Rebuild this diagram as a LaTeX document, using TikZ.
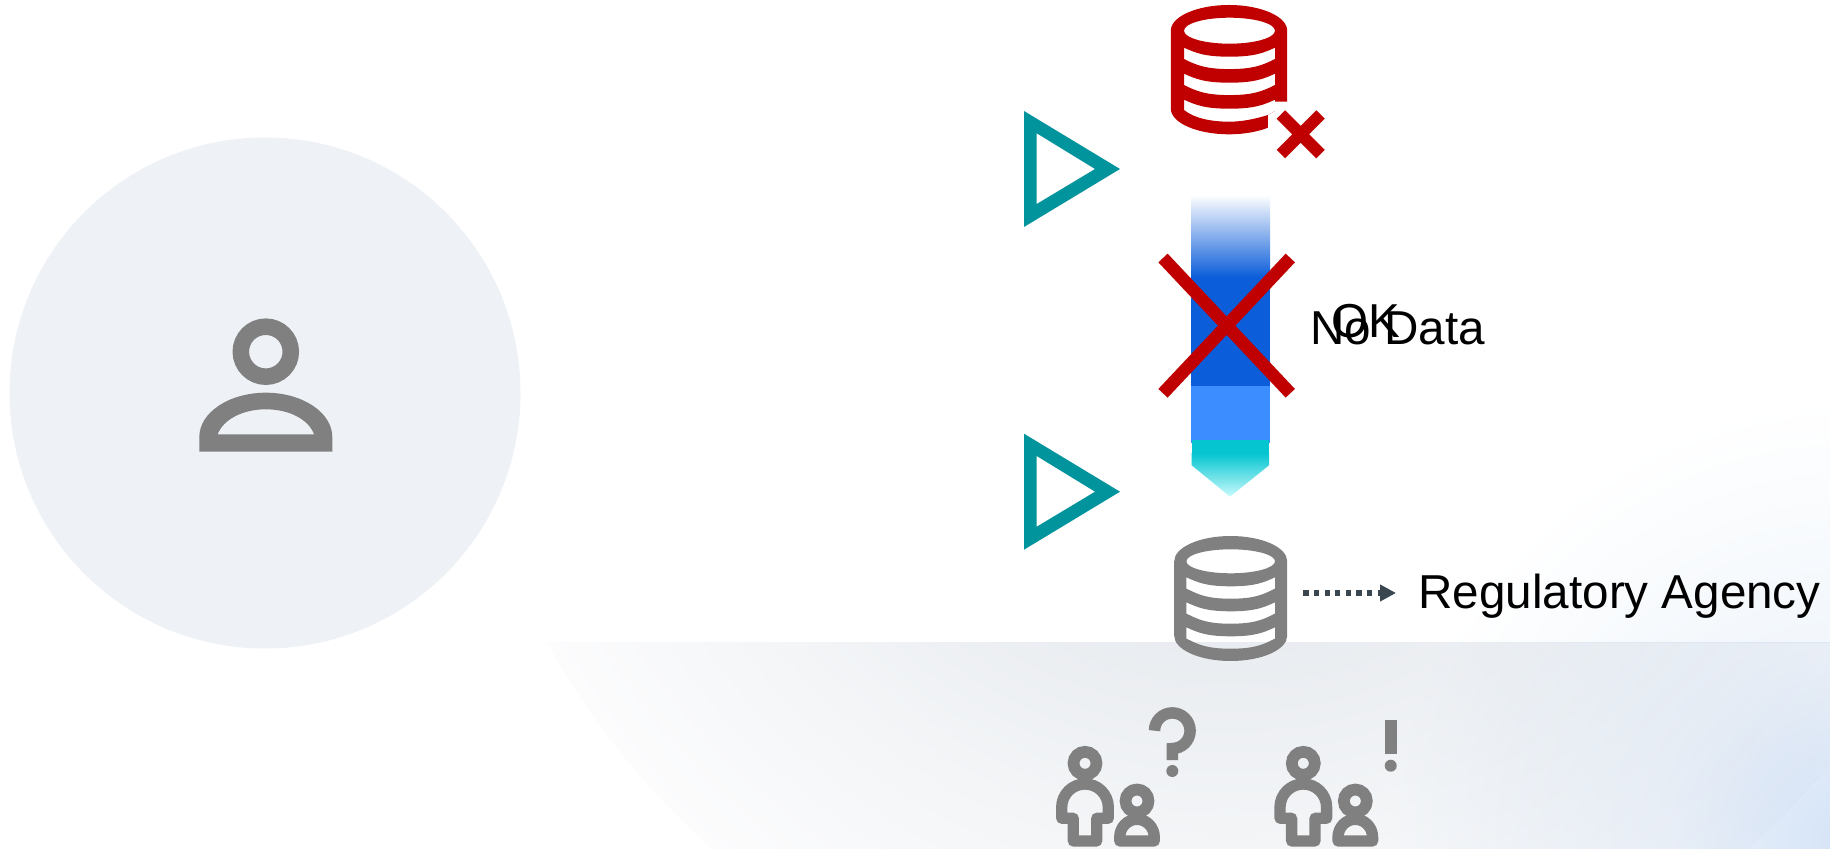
\documentclass[tikz,border=0pt]{standalone}
\usepackage{fontspec}
\setmainfont{Liberation Sans}
\usetikzlibrary{arrows.meta}
\definecolor{iconGrey}{HTML}{808080}
\definecolor{iconRed}{HTML}{C00000}
\definecolor{teal}{HTML}{02949C}
\definecolor{discFill}{HTML}{EEF1F5}
\definecolor{deepBlue}{HTML}{0C5DD9}
\definecolor{midBlue}{HTML}{3C8DFF}
\definecolor{aqua}{HTML}{04C5D0}
\definecolor{aquaPale}{HTML}{C8FAFC}
\definecolor{arrowDark}{HTML}{3A4750}
\definecolor{floorA}{HTML}{E9ECF0}
\definecolor{floorB}{HTML}{F3F5F7}
\definecolor{floorC}{HTML}{FCFCFD}
\definecolor{glowA}{HTML}{D3E3F7}
\definecolor{glowB}{HTML}{EEF3FA}
\definecolor{glowC}{HTML}{E8F0F9}
\definecolor{glowD}{HTML}{F4F8FC}
\pgfdeclareradialshading{floorshade}{\pgfpointorigin}{color(0bp)=(floorA);color(12bp)=(floorA);color(18.5bp)=(floorB);color(25bp)=(floorC);color(50bp)=(floorC)}
\pgfdeclareradialshading{glowlow}{\pgfpointorigin}{color(0bp)=(glowA);color(10bp)=(glowB);color(25bp)=(white);color(50bp)=(white)}
\pgfdeclareradialshading{glowhigh}{\pgfpointorigin}{color(0bp)=(glowC);color(14bp)=(glowD);color(25bp)=(white);color(50bp)=(white)}
\tikzset{
  lab/.style={inner sep=0pt,outer sep=0pt,anchor=base west,text=black,font=\fontsize{23.8}{28}\selectfont},
  band/.style={line width=#1*0.5pt,line cap=butt,line join=miter},
  person/.style={draw=iconGrey,line width=5.65pt,line join=round,line cap=round},
  ring/.style={draw=iconGrey,line width=5.85pt}
}
% gap between two bands of a database: centre x, half width, y of upper edge at the sides
\newcommand{\dbgap}[3]{
  (#1-#2,#3) .. controls (#1-#2+12,#3+5.5) and (#1-24,#3+9) .. (#1,#3+9)
  .. controls (#1+24,#3+9) and (#1+#2-12,#3+5.5) .. (#1+#2,#3)
  -- (#1+#2,#3+11.3) .. controls (#1+#2-12,#3+17.3) and (#1+24,#3+21.4) .. (#1,#3+21.4)
  .. controls (#1-24,#3+21.4) and (#1-#2+12,#3+17.3) .. (#1-#2,#3+11.3) -- cycle
}
\newcommand{\bigperson}[2]{%
  \begin{scope}[shift={(#1,#2)}]
  \draw[ring] (0,0) circle[radius=5.75pt];
  \draw[person] (-23.3,55) -- (-23.3,44) arc[start angle=180,end angle=360,radius=23.3] -- (23.3,55) -- (11.7,55) -- (11.7,77.7) -- (-11.7,77.7) -- (-11.7,55) -- cycle;
  \draw[ring] (52,37.7) circle[radius=5.75pt];
  \draw[person] (34.7,77.7) -- (34.7,74) arc[start angle=180,end angle=360,x radius=17.3,y radius=18] -- (69.3,77.7) -- cycle;
  \end{scope}
}
\begin{document}
\begin{tikzpicture}[x=0.5pt,y=-0.5pt]
\useasboundingbox (0,0) rectangle (1830,849);
\fill[white] (0,0) rectangle (1830,849);
% floor
\begin{scope}
  \clip (0,642) rectangle (1830,849);
  \shade[shading=floorshade] (1230,267) circle[radius=389.5pt];
\end{scope}
\begin{scope}[blend mode=multiply]
  \begin{scope}
    \clip (1200,642) rectangle (1830,849);
    \shade[shading=glowlow] (1850,840) circle[radius=230pt];
  \end{scope}
  \begin{scope}
    \clip (1200,0) rectangle (1830,642);
    \shade[shading=glowhigh] (1850,860) circle[radius=230pt];
  \end{scope}
\end{scope}
% disc with person
\fill[discFill] (265,393) circle[radius=127.75pt];
\draw[iconGrey,line width=8.25pt] (265.8,351.7) circle[radius=12.5pt];
\fill[iconGrey,even odd rule] (199.3,451.7) -- (199.3,437) arc[start angle=180,end angle=360,x radius=66.5,y radius=44.3] -- (332.3,451.7) -- cycle
  (217.7,434.3) .. controls (223,420) and (242,409.3) .. (265.8,409.3) .. controls (290,409.3) and (309,420) .. (314,434.3) -- cycle;
% red database
\fill[iconRed,even odd rule]
  (1170.8,30.7) arc[start angle=180,end angle=360,x radius=58.2,y radius=25.7] -- (1287.2,101.7) -- (1287.2,108.6) arc[start angle=0,end angle=180,x radius=58.2,y radius=25.7] -- cycle
  (1184,30.7) arc[start angle=180,end angle=540,x radius=45.5,y radius=13]
  \dbgap{1229.5}{45.5}{47.7}
  \dbgap{1229.5}{45.5}{73.7}
  (1184,99.7) .. controls (1196,105.2) and (1205.5,108.7) .. (1229.5,108.7) .. controls (1253.5,108.7) and (1263,105.2) .. (1275,99.7) -- (1275,111) -- (1268,115) .. controls (1255,119) and (1242,121.7) .. (1229.5,121.7) .. controls (1210,121.7) and (1194,118) .. (1184,110) -- cycle;
\fill[white] (1275,101.7) -- (1289,101.7) -- (1289,136) -- (1268,136) -- (1268,115) -- (1275,111) -- cycle;
\draw[iconRed,band=12] (1280.9,114.5) -- (1320.5,154.1);
\draw[iconRed,band=12] (1320.5,114.5) -- (1280.9,154.1);
% triangles
\fill[teal,even odd rule] (1024,111) -- (1120,169) -- (1024,227) -- cycle (1036.7,133.3) -- (1095,169) -- (1036.7,204) -- cycle;
\fill[teal,even odd rule] (1024,433.7) -- (1120,491.7) -- (1024,549.7) -- cycle (1036.7,456) -- (1095,491.7) -- (1036.7,526.7) -- cycle;
% flow arrow
\shade[top color=white,bottom color=deepBlue] (1191,195) rectangle (1270,277);
\fill[deepBlue] (1191,276.7) rectangle (1270,386);
\fill[midBlue] (1191,386) rectangle (1270,443);
\fill[aqua] (1191.7,440) rectangle (1269,453);
\shade[top color=aqua,bottom color=aquaPale] (1191.7,453) -- (1269,453) -- (1269,465.3) -- (1230,496.7) -- (1191.7,465.3) -- cycle;
% big cross
\draw[iconRed,band=12.7] (1163,258) -- (1290.3,393.3);
\draw[iconRed,band=12.7] (1290.3,258) -- (1163,393.3);
% labels
\node[lab] (nodata) at (1310.5,344.5) {No Data};
\node[lab] (okay) at (1331,338) {OK};
\node[lab] (agency) at (1418.5,608.3) {Regulatory Agency};
% grey database and regulatory arrow
\fill[iconGrey,even odd rule]
  (1174.2,561.3) arc[start angle=180,end angle=360,x radius=56.5,y radius=25.3] -- (1287.2,635.7) arc[start angle=0,end angle=180,x radius=56.5,y radius=25.3] -- cycle
  (1186.4,561.3) arc[start angle=180,end angle=540,x radius=44.3,y radius=12]
  \dbgap{1230.7}{44.3}{577.3}
  \dbgap{1230.7}{44.3}{602.3}
  \dbgap{1230.7}{44.3}{627.3};
\coordinate (dbout) at (1303.3,593);
\draw[arrowDark,line width=2.65pt,dash pattern=on 2.65pt off 2.65pt,-{Triangle[length=8pt,width=8pt,sep=0pt]},shorten >=11.25pt] (dbout) -- (dbout -| agency.west);
% people
\bigperson{1085}{763.3}
\bigperson{1303.3}{763.3}
\draw[iconGrey,line width=5.75pt] (1154.5,730.7) arc[start angle=180,end angle=450,radius=17.8] -- (1172.3,760);
\fill[iconGrey] (1172.3,771) circle[radius=3pt];
\fill[iconGrey] (1385,720) rectangle (1397.3,754.3);
\fill[iconGrey] (1390.7,765.7) circle[radius=3pt];
\end{tikzpicture}
\end{document}
